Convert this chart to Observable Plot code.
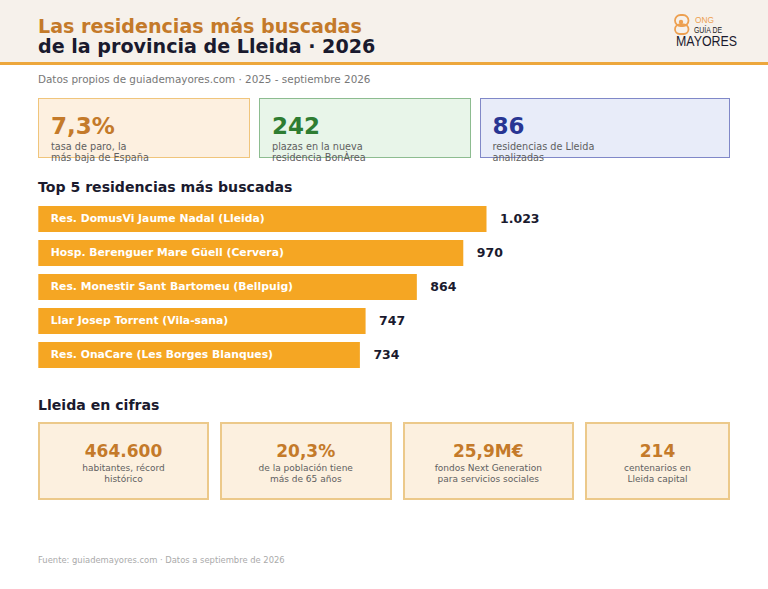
<!DOCTYPE html>
<html lang="es"><head><meta charset="utf-8">
<script src="https://cdn.jsdelivr.net/npm/d3@7"></script>
<script src="https://cdn.jsdelivr.net/npm/@observablehq/plot@0.6"></script>
<style>
html,body{margin:0;padding:0;background:#fff;}
#page{position:relative;width:768px;height:589px;overflow:hidden;font-family:"DejaVu Sans",sans-serif;}
#page>*{position:absolute;box-sizing:border-box;}
.t{white-space:nowrap;}
.card{border:1.5px solid;}
.card .n,.card .s{position:absolute;white-space:nowrap;}
.top .n{left:12px;top:12px;font-size:23px;font-weight:700;line-height:30px;}
.top .s{left:12px;top:41.5px;font-size:9.7px;line-height:11px;color:#5f5f5f;}
.bot{background:#fcf0df;border-color:#ecc98a;border-width:2px;text-align:center;}
.bot .n{left:0;right:0;top:15.5px;font-size:17px;font-weight:700;line-height:23px;color:#c47a2a;}
.bot .s{left:0;right:0;top:38.5px;font-size:9px;line-height:11px;color:#5f5f5f;}
#chart{left:0;top:198px;}
#chart svg{display:block;}
</style></head><body>
<div id="page"></div>
<script>
const names=["Res. DomusVi Jaume Nadal (Lleida)","Hosp. Berenguer Mare Güell (Cervera)","Res. Monestir Sant Bartomeu (Bellpuig)","Llar Josep Torrent (Vila-sana)","Res. OnaCare (Les Borges Blanques)"];
const searches=[1023,970,864,747,734];
const valueLabels=["1.023","970","864","747","734"];
const topNumbers=["7,3%","242","86"];
const topLabels=[["tasa de paro, la","más baja de España"],["plazas en la nueva","residencia BonÀrea"],["residencias de Lleida","analizadas"]];
const figures=["464.600","20,3%","25,9M€","214"];
const figureLabels=[["habitantes, récord","histórico"],["de la población tiene","más de 65 años"],["fondos Next Generation","para servicios sociales"],["centenarios en","Lleida capital"]];

const page=document.getElementById("page");
function el(html){const d=document.createElement("div");d.innerHTML=html;const e=d.firstElementChild;page.appendChild(e);return e;}
el(`<div style="left:0;top:0;width:768px;height:65px;background:#f6f1eb;border-bottom:3px solid #eda73c"></div>`);
el(`<div class="t" style="left:38px;top:14.5px;font-size:19.1px;font-weight:700;line-height:23px;color:#c47a2a">Las residencias más buscadas</div>`);
el(`<div class="t" style="left:38px;top:35px;font-size:19.1px;font-weight:700;line-height:23px;color:#1a1a2e">de la provincia de Lleida · 2026</div>`);
el(`<div class="t" style="left:38px;top:72px;font-size:10.4px;line-height:15px;color:#777">Datos propios de guiademayores.com · 2025 - septiembre 2026</div>`);
// logo
el(`<svg style="left:670px;top:10px;overflow:visible" width="72" height="40" viewBox="0 0 72 40">
<g fill="none" stroke="#eda050" stroke-width="1.8"><rect x="5" y="5" width="13.5" height="11" rx="5.5"/><rect x="5" y="14.5" width="13.5" height="9.5" rx="4.7"/></g>
<circle cx="11" cy="12" r="2.2" fill="#eda050"/>
<text x="25" y="13" font-family="Liberation Sans" font-size="9" fill="#eda050" textLength="19" lengthAdjust="spacingAndGlyphs">ONG</text>
<text x="24" y="23" font-family="Liberation Sans" font-size="8.5" fill="#222" textLength="28" lengthAdjust="spacingAndGlyphs">GUÍA DE</text>
<text x="6" y="36" font-family="Liberation Sans" font-size="15" fill="#1a1a2e" textLength="61" lengthAdjust="spacingAndGlyphs">MAYORES</text></svg>`);

const topStyle=[{x:38,w:212,bg:"#fdf0e0",b:"#f0c57c",c:"#c47a2a"},{x:259,w:212,bg:"#e8f5e9",b:"#8dbc90",c:"#2e7d32"},{x:479.5,w:250.5,bg:"#e8ecf9",b:"#8088c8",c:"#283593"}];
topNumbers.forEach((n,i)=>{const s=topStyle[i];
 el(`<div class="card top" style="left:${s.x}px;top:98px;width:${s.w}px;height:60px;background:${s.bg};border-color:${s.b}"><div class="n" style="color:${s.c}">${n}</div><div class="s">${topLabels[i].join("<br>")}</div></div>`);});

el(`<div class="t" style="left:38px;top:178px;font-size:14.1px;font-weight:700;line-height:18px;color:#1a1a2e">Top 5 residencias más buscadas</div>`);
el(`<div class="t" style="left:38px;top:396px;font-size:14.1px;font-weight:700;line-height:18px;color:#1a1a2e">Lleida en cifras</div>`);

const rows=names.map((name,i)=>({name,value:searches[i],label:valueLabels[i]}));
const chart=Plot.plot({
  width:768,height:178,margin:0,
  style:{fontFamily:"DejaVu Sans",background:"transparent",overflow:"visible"},
  x:{domain:[0,1023],range:[38.3,486.5],axis:null},
  y:{domain:names,range:[7,172],paddingInner:0.228,paddingOuter:0,axis:null},
  marks:[
    Plot.barX(rows,{x:"value",y:"name",fill:"#f5a623"}),
    Plot.text(rows,{x:()=>0,y:"name",text:"name",textAnchor:"start",dx:12,dy:-0.5,fill:"#fff",fontWeight:700,fontSize:10.8}),
    Plot.text(rows,{x:"value",y:"name",text:"label",textAnchor:"start",dx:13,dy:-0.5,fill:"#1a1a2e",fontWeight:700,fontSize:12.5})
  ]
});
const holder=el(`<div id="chart"></div>`);holder.appendChild(chart);

const botPos=[[38,171],[220,171.5],[402.5,171.5],[585,145]];
figures.forEach((n,i)=>{
 el(`<div class="card bot" style="left:${botPos[i][0]}px;top:422px;width:${botPos[i][1]}px;height:78px"><div class="n">${n}</div><div class="s">${figureLabels[i].join("<br>")}</div></div>`);});
el(`<div class="t" style="left:38px;top:554px;font-size:8.4px;line-height:13px;color:#aaa">Fuente: guiademayores.com · Datos a septiembre de 2026</div>`);
</script></body></html>
